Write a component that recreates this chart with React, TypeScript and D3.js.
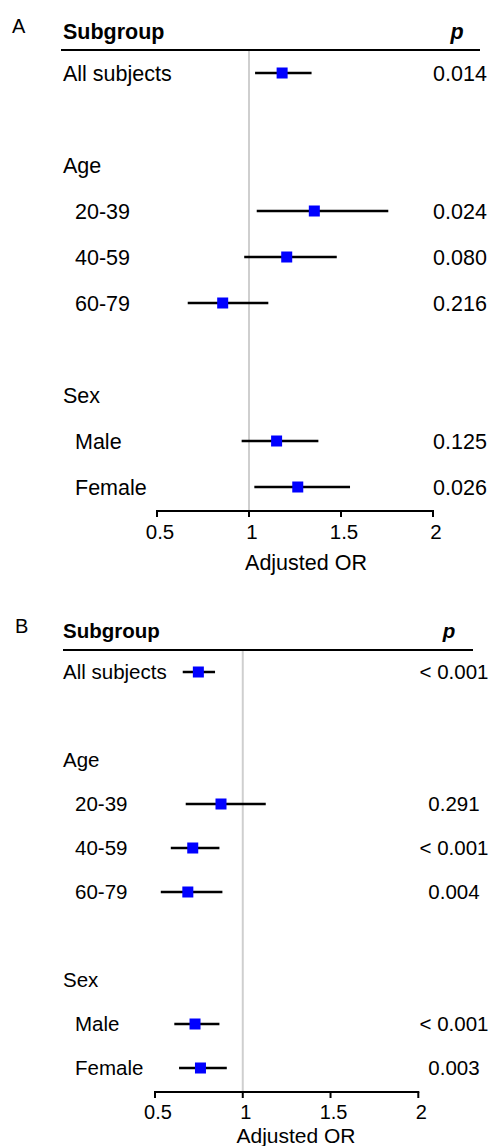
import React from "react";
import * as d3 from "d3";

const rowLabels = ["All subjects", "", "Age", "20-39", "40-59", "60-79", "", "Sex", "Male", "Female"];
const rowIndent = [false, false, false, true, true, true, false, false, true, true];

const orA = [1.18, null, null, 1.355, 1.205, 0.857, null, null, 1.15, 1.265];
const lowA = [1.033, null, null, 1.042, 0.974, 0.667, null, null, 0.96, 1.029];
const highA = [1.34, null, null, 1.757, 1.477, 1.105, null, null, 1.377, 1.549];
const pA = ["0.014", "", "", "0.024", "0.080", "0.216", "", "", "0.125", "0.026"];

const orB = [0.747, null, null, 0.876, 0.715, 0.687, null, null, 0.728, 0.759];
const lowB = [0.658, null, null, 0.675, 0.59, 0.533, null, null, 0.61, 0.637];
const highB = [0.842, null, null, 1.131, 0.867, 0.884, null, null, 0.867, 0.909];
const pB = ["< 0.001", "", "", "0.291", "< 0.001", "0.004", "", "", "< 0.001", "0.003"];

const tickValues = [0.5, 1, 1.5, 2];
const xDomain = [0.5, 2];

const FONT = "'Liberation Sans', Arial, Helvetica, sans-serif";

type Layout = {
  letter: string;
  letterX: number;
  letterY: number;
  headerY: number;
  headerLine: [number, number];
  lineY: number;
  pHeaderX: number;
  pX: number;
  xRange: [number, number];
  yRange: [number, number];
  axisY: number;
  tickLabelDy: number;
  tickFont: number;
  titleX: number;
  titleDy: number;
  titleFont: number;
  fontSize: number;
  sq: number;
};

function Panel({ or, low, high, p, L }: { or: (number | null)[]; low: (number | null)[]; high: (number | null)[]; p: string[]; L: Layout }) {
  const x = d3.scaleLinear().domain(xDomain).range(L.xRange);
  const y = d3.scalePoint<number>().domain(rowLabels.map((_, i) => i)).range(L.yRange);
  const fs = L.fontSize;
  return (
    <g fontFamily={FONT} fill="#000">
      <text x={L.letterX} y={L.letterY} dy="0.35em" fontSize={20}>{L.letter}</text>
      <text x={63} y={L.headerY} dy="0.35em" fontSize={fs} fontWeight="bold">Subgroup</text>
      <text x={L.pHeaderX} y={L.headerY} dy="0.35em" fontSize={fs} fontWeight="bold" fontStyle="italic" textAnchor="middle">p</text>
      <line x1={L.headerLine[0]} x2={L.headerLine[1]} y1={L.lineY} y2={L.lineY} stroke="#000" strokeWidth={2} />
      <line x1={x(1)} x2={x(1)} y1={L.lineY + 1} y2={L.axisY} stroke="#cfcfcf" strokeWidth={2} />
      {rowLabels.map((lab, i) => (
        <text key={"l" + i} x={rowIndent[i] ? 75 : 63} y={y(i)} dy="0.35em" fontSize={fs}>{lab}</text>
      ))}
      {or.map((v, i) =>
        v == null ? null : (
          <g key={"m" + i}>
            <line x1={x(low[i] as number)} x2={x(high[i] as number)} y1={y(i)} y2={y(i)} stroke="#000" strokeWidth={2.6} />
            <rect x={x(v) - L.sq / 2} y={(y(i) as number) - L.sq / 2} width={L.sq} height={L.sq} fill="#0000ff" />
          </g>
        )
      )}
      {p.map((t, i) =>
        t ? (
          <text key={"p" + i} x={L.pX} y={y(i)} dy="0.35em" fontSize={fs} textAnchor="middle">{t}</text>
        ) : null
      )}
      <line x1={L.xRange[0] - 1} x2={L.xRange[1] + 1} y1={L.axisY} y2={L.axisY} stroke="#000" strokeWidth={2} />
      {tickValues.map((t) => (
        <g key={"t" + t}>
          <line x1={x(t)} x2={x(t)} y1={L.axisY} y2={L.axisY + 6} stroke="#000" strokeWidth={2} />
          <text x={x(t) + 3} y={L.axisY + L.tickLabelDy} dy="0.35em" fontSize={L.tickFont} textAnchor="middle">{String(t)}</text>
        </g>
      ))}
      <text x={L.titleX} y={L.axisY + L.titleDy} dy="0.35em" fontSize={L.titleFont} textAnchor="middle">Adjusted OR</text>
    </g>
  );
}

const layoutA: Layout = {
  letter: "A", letterX: 12, letterY: 26, headerY: 31, headerLine: [61, 480], lineY: 50,
  pHeaderX: 457, pX: 460, xRange: [157, 433], yRange: [73, 487], axisY: 511,
  tickLabelDy: 21, tickFont: 20.5, titleX: 306, titleDy: 51, titleFont: 21.5, fontSize: 21.5, sq: 11,
};
const layoutB: Layout = {
  letter: "B", letterX: 15, letterY: 626, headerY: 631, headerLine: [63, 473], lineY: 650,
  pHeaderX: 449, pX: 454, xRange: [155, 418.3], yRange: [672, 1068], axisY: 1092,
  tickLabelDy: 20, tickFont: 20, titleX: 296, titleDy: 44, titleFont: 21, fontSize: 20.5, sq: 11,
};

export default function App() {
  return (
    <svg width={492} height={1146} style={{ position: "absolute", left: 0, top: 0, background: "#fff" }}>
      <rect width={492} height={1146} fill="#fff" />
      <Panel or={orA} low={lowA} high={highA} p={pA} L={layoutA} />
      <Panel or={orB} low={lowB} high={highB} p={pB} L={layoutB} />
    </svg>
  );
}
